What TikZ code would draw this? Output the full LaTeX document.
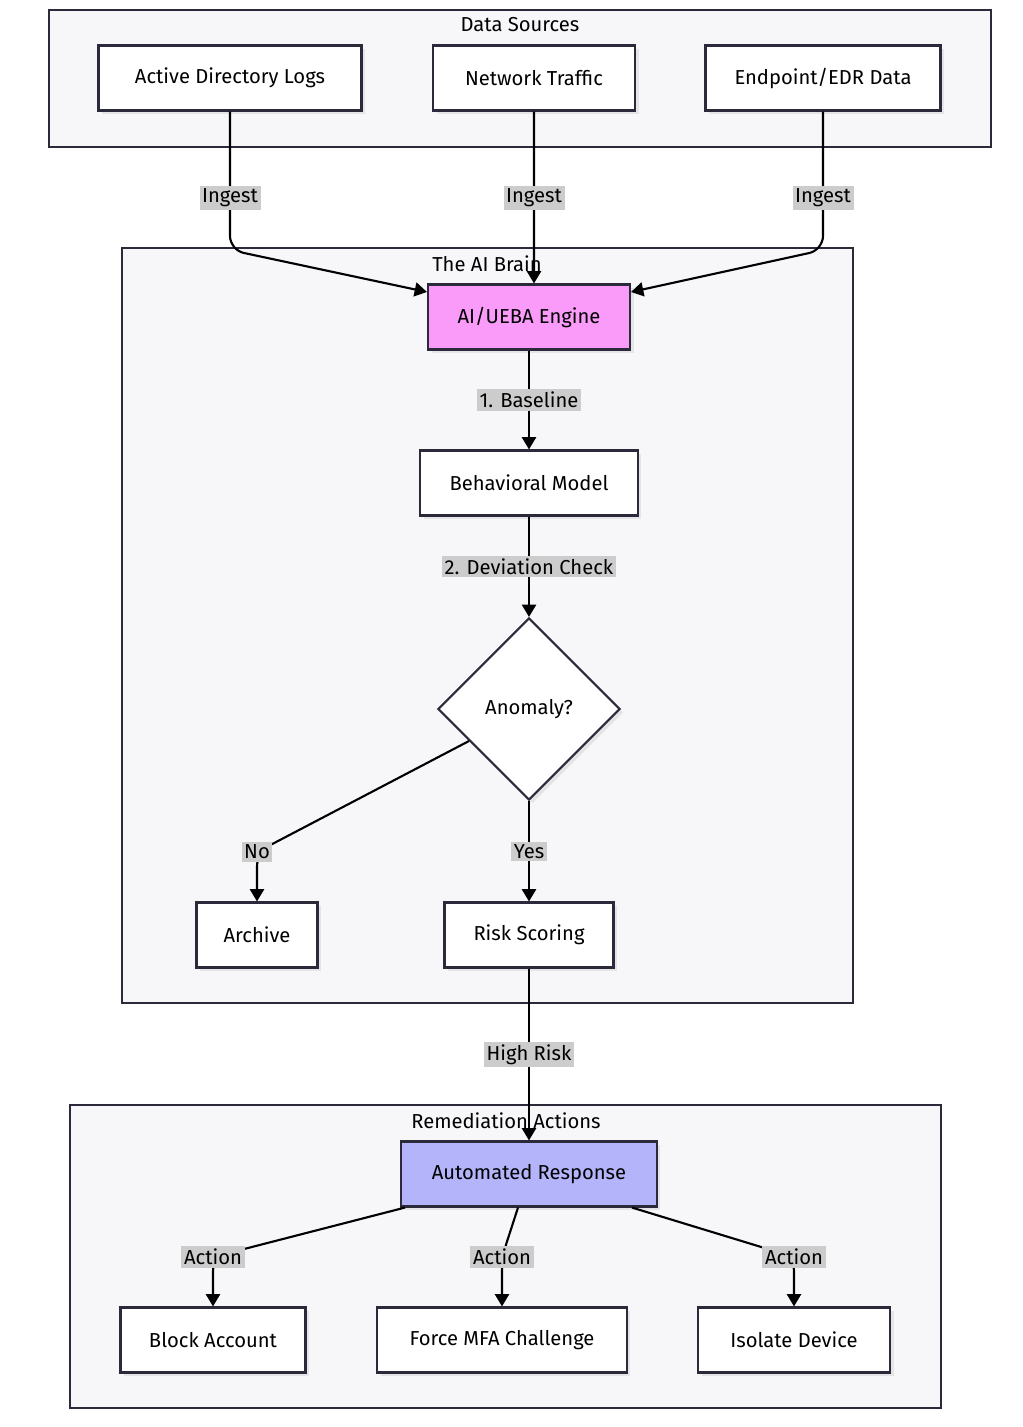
\documentclass[tikz,border=0pt]{standalone}
\usepackage{fontspec}
\setmainfont{Fira Sans}
\usetikzlibrary{shapes.geometric,shadows,arrows.meta}
\definecolor{edgec}{HTML}{2A2A3A}
\definecolor{grpc}{HTML}{F7F7FA}
\tikzset{
  grp/.style={draw=edgec, line width=1.2pt, fill=grpc},
  box/.style={draw=edgec, line width=1.2pt, fill=white, minimum height=1.3cm,
    font=\fontsize{11.5}{14}\selectfont, drop shadow={shadow xshift=2pt,shadow yshift=-2pt,opacity=.15}},
  lbl/.style={fill=black!20, sharp corners, inner sep=1.5pt, font=\fontsize{11.5}{14}\selectfont},
  ttl/.style={font=\fontsize{11.5}{14}\selectfont},
  link/.style={line width=1.2pt, rounded corners=8pt},
  arr/.style={link, -{Triangle[length=7pt,width=8pt]}}
}
\begin{document}
\begin{tikzpicture}[x=0.02cm, y=-0.02cm]
\useasboundingbox (0,0) rectangle (1023,1427);
% groups
\draw[grp] (49,10) rectangle (991,147);
\node[ttl] (tds) at (520,25) {Data Sources};
\draw[grp] (122,248) rectangle (853,1003);
\node[ttl] (tai) at (487,264) {The AI Brain};
\draw[grp] (70,1105) rectangle (941,1408);
\node[ttl] (trm) at (506,1121) {Remediation Actions};
% nodes
\node[box, minimum width=5.26cm] (adl) at (230,78) {Active Directory Logs};
\node[box, minimum width=4.04cm] (net) at (534,78) {Network Traffic};
\node[box, minimum width=4.7cm] (edr) at (823,78) {Endpoint/EDR Data};
\node[box, minimum width=4.04cm, fill={rgb,255:red,250;green,155;blue,250}] (ueba) at (529,317) {AI/UEBA Engine};
\node[box, minimum width=4.36cm] (model) at (529,483) {Behavioral Model};
\node[box, diamond, minimum width=3.64cm, minimum height=3.64cm, inner sep=0pt, aspect=1] (anom) at (529,709) {Anomaly?};
\node[box, minimum width=2.42cm] (arch) at (257,935) {Archive};
\node[box, minimum width=3.38cm] (risk) at (529,935) {Risk Scoring};
\node[box, minimum width=5.12cm, fill={rgb,255:red,180;green,180;blue,250}] (resp) at (529,1174) {Automated Response};
\node[box, minimum width=3.7cm] (block) at (213,1340) {Block Account};
\node[box, minimum width=5cm] (mfa) at (502,1340) {Force MFA Challenge};
\node[box, minimum width=3.84cm] (iso) at (794,1340) {Isolate Device};
% connectors
\coordinate (c1) at (230,250);
\coordinate (c3) at (823,250);
\draw[arr] (adl.south) -- (c1) -- ([yshift=0.5cm]ueba.west);
\draw[arr] (net.south) -- ([xshift=0.1cm]ueba.north);
\draw[arr] (edr.south) -- (c3) -- ([yshift=0.5cm]ueba.east);
\node[lbl] at (230,198) {Ingest};
\node[lbl] at (534,198) {Ingest};
\node[lbl] at (823,198) {Ingest};
\draw[arr] (ueba) -- node[lbl]{1. Baseline} (model);
\draw[arr] (model) -- node[lbl]{2. Deviation Check} (anom);
\coordinate (cn) at (257,852);
\coordinate (dn) at (469,741);
\draw[arr] (dn) -- (cn) -- (arch);
\node[lbl] at (cn) {No};
\draw[arr] (anom) -- node[lbl]{Yes} (risk);
\draw[arr] (risk) -- node[lbl]{High Risk} (resp);
\coordinate (a1) at (213,1257);
\coordinate (a2) at (502,1257);
\coordinate (a3) at (794,1257);
\draw[arr] ([xshift=-2.48cm]resp.south) -- (a1) -- (block);
\draw[arr] ([xshift=-0.22cm]resp.south) -- (a2) -- (mfa);
\draw[arr] ([xshift=2.06cm]resp.south) -- (a3) -- (iso);
\node[lbl] at (a1) {Action};
\node[lbl] at (a2) {Action};
\node[lbl] at (a3) {Action};
\end{tikzpicture}
\end{document}
